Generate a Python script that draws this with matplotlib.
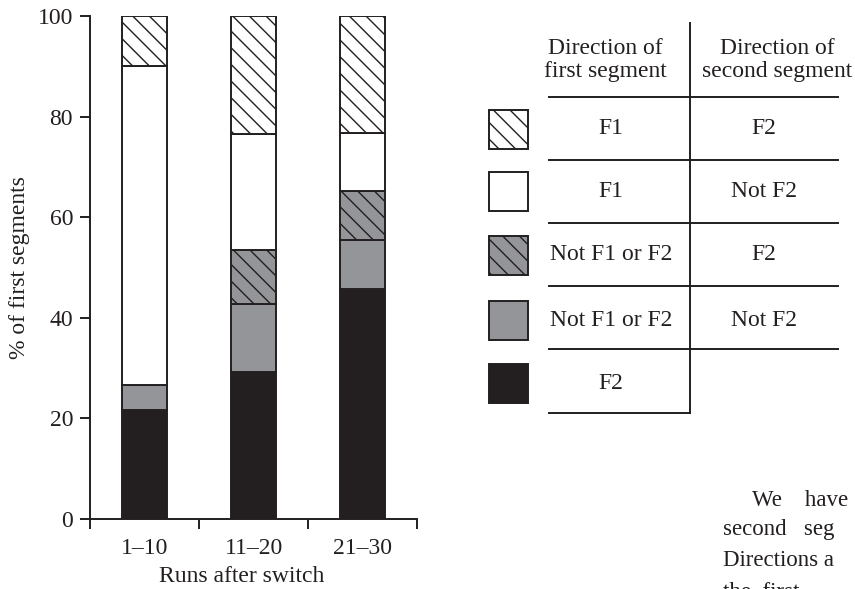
import matplotlib
matplotlib.use("Agg")
import matplotlib.pyplot as plt
from matplotlib.patches import Rectangle
from matplotlib.lines import Line2D

plt.rcParams['font.family'] = ['Liberation Serif', 'DejaVu Serif']
plt.rcParams['hatch.linewidth'] = 1.0

# ---- data ----
categories = ["1\u201310", "11\u201320", "21\u201330"]
f2_only = [21.7, 29.2, 45.7]          # first F2
notf1_notf2 = [4.9, 13.5, 9.8]        # first Not F1 or F2, second Not F2
notf1_f2 = [0.0, 10.8, 9.8]           # first Not F1 or F2, second F2
f1_notf2 = [63.4, 23.0, 11.5]         # first F1, second Not F2
f1_f2 = [10.0, 23.5, 23.2]            # first F1, second F2

first_dir = ["F1", "F1", "Not F1 or F2", "Not F1 or F2", "F2"]
second_dir = ["F2", "Not F2", "F2", "Not F2", ""]

BLACK = "#231f20"
GRAY = "#939598"
WHITE = "#ffffff"
HATCH = "\\\\"

# bottom -> top
series = [
    (f2_only, BLACK, None),
    (notf1_notf2, GRAY, None),
    (notf1_f2, GRAY, HATCH),
    (f1_notf2, WHITE, None),
    (f1_f2, WHITE, HATCH),
]

FS = 17

fig = plt.figure(figsize=(8.55, 5.89), dpi=100)
ax = fig.add_axes([0.1053, 0.1188, 0.3825, 0.854])

x = list(range(len(categories)))
bottom = [0.0] * len(categories)
for vals, fc, hatch in series:
    ax.bar(x, vals, width=0.41, bottom=bottom, color=fc, edgecolor=BLACK,
           linewidth=1.4, hatch=hatch, zorder=2)
    bottom = [b + v for b, v in zip(bottom, vals)]

ax.set_xlim(-0.5, 2.5)
ax.set_ylim(0, 100)
for s in ("top", "right"):
    ax.spines[s].set_visible(False)
for s in ("left", "bottom"):
    ax.spines[s].set_linewidth(1.4)
    ax.spines[s].set_color(BLACK)

ax.set_yticks([0, 20, 40, 60, 80, 100])
ax.tick_params(axis='y', direction='out', length=7.2, width=1.4, pad=5,
               labelsize=FS, colors=BLACK)
ax.set_xticks([-0.5, 0.5, 1.5, 2.5])
ax.set_xticklabels([])
ax.tick_params(axis='x', which='major', direction='out', length=7, width=1.4, colors=BLACK)
ax.set_xticks(x, minor=True)
ax.set_xticklabels(categories, minor=True)
ax.tick_params(axis='x', which='minor', length=0, pad=14, labelsize=FS, colors=BLACK)

ax.set_ylabel("% of first segments", fontsize=FS, color=BLACK)
ax.yaxis.set_label_coords(-0.183, 0.5)
ax.set_xlabel("Runs after switch", fontsize=FS, color=BLACK)
ax.xaxis.set_label_coords(0.465, -0.093)

# ---- legend table (pixel-coordinate overlay) ----
tab = fig.add_axes([0, 0, 1, 1], zorder=5)
tab.set_xlim(0, 855)
tab.set_ylim(589, 0)
tab.axis("off")
tab.patch.set_alpha(0)

tab.add_line(Line2D([690, 690], [23, 413], color=BLACK, lw=1.4))
row_lines = [97, 159.5, 222.5, 286, 349]
for yy in row_lines:
    tab.add_line(Line2D([549, 838], [yy, yy], color=BLACK, lw=1.4))
tab.add_line(Line2D([549, 690], [412.5, 412.5], color=BLACK, lw=1.4))

tab.text(605, 60, "Direction of\nfirst segment", ha="center", va="center",
         fontsize=FS, linespacing=1.12, color=BLACK)
tab.text(777, 60, "Direction of\nsecond segment", ha="center", va="center",
         fontsize=FS, linespacing=1.12, color=BLACK)

legend_series = list(reversed(series))
row_centers = [129, 191.5, 255, 320, 383.5]
for (vals, fc, hatch), yc, t1, t2 in zip(legend_series, row_centers, first_dir, second_dir):
    tab.add_patch(Rectangle((489, yc - 19.5), 39, 39, facecolor=fc, edgecolor=BLACK,
                            linewidth=1.4, hatch=hatch))
    tab.text(611, yc, t1, ha="center", va="center", fontsize=FS, color=BLACK)
    if t2:
        tab.text(764, yc, t2, ha="center", va="center", fontsize=FS, color=BLACK)

# ---- fragment of body text at lower right ----
fig.text(752 / 855, 1 - 500 / 589, "We    have", ha="left", va="center",
         fontsize=16.5, color=BLACK)
fig.text(723 / 855, 1 - 530 / 589, "second   seg", ha="left", va="center",
         fontsize=16.5, color=BLACK)
fig.text(723 / 855, 1 - 560 / 589, "Directions a", ha="left", va="center",
         fontsize=16.5, color=BLACK)
fig.text(723 / 855, 1 - 592 / 589, "the  first", ha="left", va="center",
         fontsize=16.5, color=BLACK)

fig.savefig("out.png", dpi=100)
